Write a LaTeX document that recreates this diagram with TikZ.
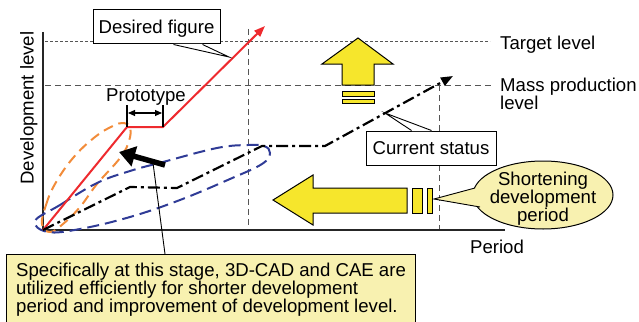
\documentclass[tikz,border=0pt]{standalone}
\usepackage{fontspec}
\setmainfont{Liberation Sans}
\usetikzlibrary{arrows.meta,calc}
\definecolor{myyellow}{HTML}{F6E62C}
\definecolor{paleyellow}{HTML}{F8F1B0}
\definecolor{myred}{HTML}{EE2A2E}
\definecolor{myorange}{HTML}{F28C3A}
\definecolor{myblue}{HTML}{2F3B96}
\definecolor{gridgray}{HTML}{555555}
\begin{document}
\begin{tikzpicture}[x=1pt,y=-1pt,
  every node/.style={font=\fontsize{18.6}{18}\selectfont, inner sep=0pt},
  labelbox/.style={draw, line width=1pt, fill=white, text height=13.3pt, text depth=0pt},
  griddot/.style={line width=1pt, gridgray, dash pattern=on 2.5pt off 2.5pt},
  griddash/.style={line width=1pt, gridgray, dash pattern=on 6pt off 4pt},
  axisline/.style={line width=1.3pt, black!85},
  yelarrow/.style={draw=black, line width=1pt, fill=myyellow, line join=miter},
  redline/.style={line width=2pt, myred},
  dashdot/.style={line width=2.2pt, black, dash pattern=on 12pt off 4pt on 3pt off 4pt},
  bluedash/.style={line width=2pt, myblue, dash pattern=on 12pt off 6pt},
  orangedash/.style={line width=2pt, myorange, dash pattern=on 10pt off 6pt},
  pointer/.style={line width=0.9pt, black},
  bracket/.style={line width=1.1pt, black}]
\useasboundingbox (0,0) rectangle (639,321);

% coordinates
\coordinate (O) at (43,230);
\coordinate (ytop) at (43,32);
\coordinate (xend) at (505,230);
\coordinate (r1) at (127,127);
\coordinate (r2) at (163,127);
\coordinate (rtip) at (265,26);
\coordinate (c1) at (130,187);
\coordinate (c2) at (177,188);
\coordinate (c3) at (262,146);
\coordinate (c4) at (325,146);
\coordinate (ctip) at (453,76);
\coordinate (ba1) at (165,165);
\coordinate (ba2) at (119,152);
\coordinate (np) at (153,163);

% grid lines
\draw[griddot] (45,42) -- (490,42);
\draw[griddash] (45,85) -- (493,85);
\draw[griddash] (248,29) -- (248,229);
\draw[griddash] (439,85) -- (439,229);

% axes
\draw[axisline] (ytop) -- (O) -- (xend);

% orange and blue loops
\draw[orangedash] plot[smooth cycle, tension=0.7] coordinates
  {(42,224) (46,205) (55,184) (73,158) (95,137) (113,126) (124,123) (130,128) (129,141) (120,158) (97,184) (80,207) (63,224) (50,232)};
\draw[bluedash] plot[smooth cycle, tension=0.65] coordinates
  {(35,221) (60,205) (97,183) (130,171) (163,162) (217,148) (248,145) (264,146) (270,153) (262,164) (230,179) (180,200) (130,217) (80,229) (48,232)};

% red desired curve
\draw[redline, -{Triangle[length=11pt,width=8pt]}] (O) -- (r1) -- (r2) -- (rtip);

% current status dash-dot
\draw[dashdot, -{Triangle[length=12pt,width=9pt]}] (O) -- (c1) -- (c2) -- (c3) -- (c4) -- (ctip);

% prototype bracket
\draw[bracket] (127,105) -- (127,127);
\draw[bracket] (163,105) -- (163,127);
\draw[bracket, {Triangle[length=7pt,width=6pt]}-{Triangle[length=7pt,width=6pt]}] (128,113) -- (162,113);
\node[anchor=base] (proto) at (146,101) {Prototype};

% thick black arrow
\draw[line width=5.5pt, -{Triangle[length=16pt,width=20pt]}] (ba1) -- (ba2);

% up yellow arrow
\draw[yelarrow] (358,38) -- (393,64) -- (374,64) -- (374,85) -- (342,85) -- (342,64) -- (322,64) -- cycle;
\draw[yelarrow] (342,91) rectangle (374,96);
\draw[yelarrow] (342,99) rectangle (374,103);

% left yellow arrow
\draw[yelarrow] (273,200) -- (313,175) -- (313,188) -- (407,188) -- (407,213) -- (313,213) -- (313,225) -- cycle;
\draw[yelarrow] (412,188) rectangle (422,213);
\draw[yelarrow] (427,188) rectangle (432,213);

% desired figure box
\node[labelbox, minimum width=127pt, minimum height=34pt] (desired) at (156.5,27) {Desired figure};
\coordinate (dtip) at (229,57);
\fill[white] ($(desired.south west)+(81,-0.5)$) -- (dtip) -- ($(desired.south west)+(110,-0.5)$) -- cycle;
\draw[pointer] ($(desired.south west)+(81,0)$) -- (dtip) -- ($(desired.south west)+(110,0)$);

% current status box
\node[labelbox, minimum width=130pt, minimum height=34pt] (current) at (431,148) {Current status};
\coordinate (cptip) at (385,113);
\fill[white] ($(current.north west)+(46,0.5)$) -- (cptip) -- ($(current.north west)+(66,0.5)$) -- cycle;
\draw[pointer] ($(current.north west)+(46,0)$) -- (cptip) -- ($(current.north west)+(66,0)$);

% labels
\node[anchor=base west] (target) at (500,49) {Target level};
\node[anchor=base west] (mass) at (500,91) {Mass production};
\node[anchor=base west] (masslevel) at (500,109) {level};
\node[anchor=base] (period) at (497,253) {Period};
\node[anchor=base, rotate=90] (ylabel) at (33.5,108) {Development level};

% shortening ellipse callout
\draw[line width=1pt, fill=paleyellow] (543,195) ellipse [x radius=70, y radius=34];
\coordinate (stip) at (434,199);
\coordinate (sb1) at (475,188);
\coordinate (sb2) at (480,207);
\fill[paleyellow] (stip) -- (sb1) -- (490,197) -- (sb2) -- cycle;
\draw[pointer] (sb1) -- (stip) -- (sb2);
\node[align=center, anchor=north] (short) at (543,171.5) {Shortening\\development\\period};

% bottom note box
\node[draw, line width=1pt, fill=paleyellow, anchor=north west, minimum width=409pt, minimum height=76pt] (notebox) at (6,254) {};
\node[anchor=north west, align=left] (note) at (16,262.5) {Specifically at this stage, 3D-CAD and CAE are\\utilized efficiently for shorter development\\period and improvement of development level.};
\draw[pointer] ($(notebox.north west)+(159,0)$) -- (np);
\end{tikzpicture}
\end{document}
